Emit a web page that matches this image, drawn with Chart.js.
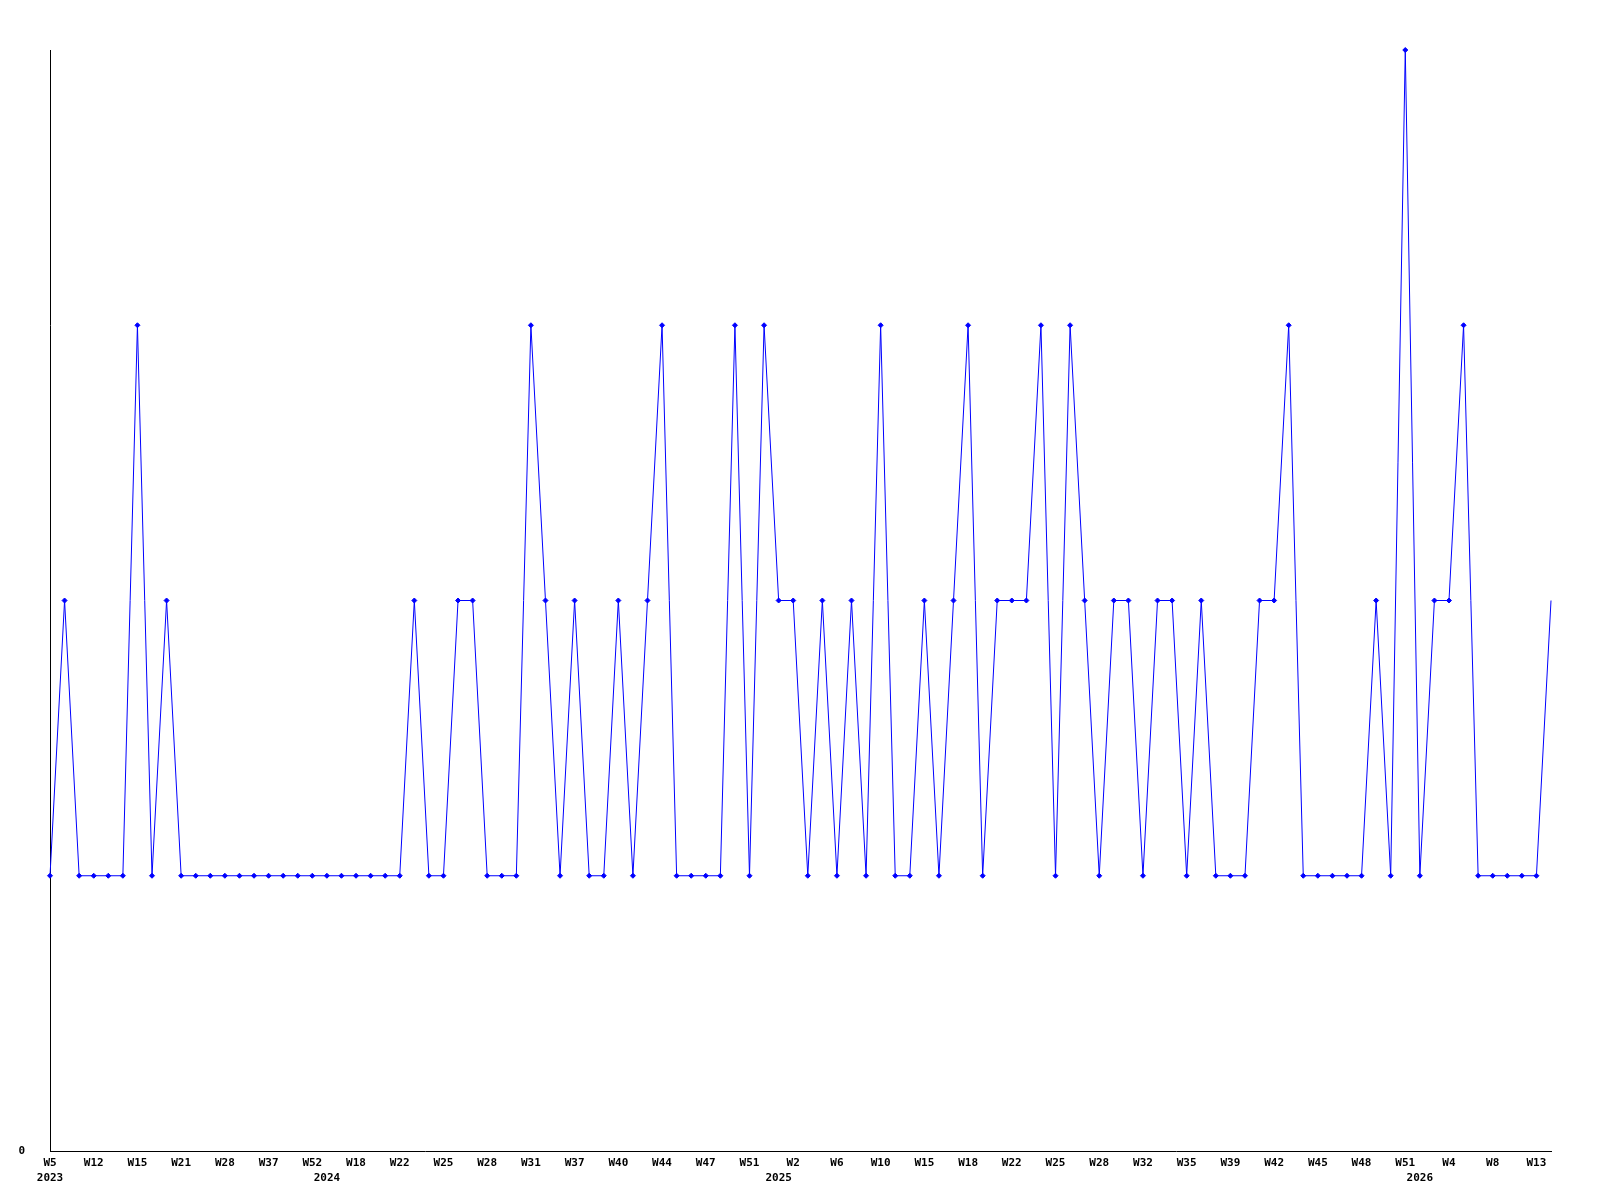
<!DOCTYPE html>
<html>
<head>
<meta charset="utf-8">
<title>weekly count</title>
<script src="https://cdn.jsdelivr.net/npm/chart.js@4.4.1/dist/chart.umd.min.js"></script>
<style>
  html, body { margin: 0; padding: 0; background: #fff; }
  canvas { display: block; }
</style>
</head>
<body>
<canvas id="weekChart" width="1600" height="1200"></canvas>
<script>
// week of each point
const weeks = [
  5, 7, 9, 12, 13, 14, 15, 16, 18, 21, 23, 26, 28, 31, 34, 37, 42, 47, 52,
  3, 10, 18, 20, 21, 22, 23, 24, 25, 26, 27, 28, 29, 30, 31, 33, 35, 37, 38, 39, 40,
  42, 43, 44, 45, 46, 47, 48, 50, 51, 52,
  1, 2, 3, 5, 6, 7, 9, 10, 11, 13, 15, 16, 17, 18, 19, 20, 22, 23, 24, 25, 26, 27,
  28, 29, 31, 32, 33, 34, 35, 36, 38, 39, 40, 41, 42, 43, 44, 45, 46, 47, 48, 49, 50, 51,
  1, 2, 4, 5, 7, 8, 10, 12, 13, 14
];

// year of each point
const years = [
  2023, 2023, 2023, 2023, 2023, 2023, 2023, 2023, 2023, 2023, 2023, 2023, 2023, 2023, 2023, 2023, 2023, 2023, 2023,
  2024, 2024, 2024, 2024, 2024, 2024, 2024, 2024, 2024, 2024, 2024, 2024, 2024, 2024, 2024, 2024, 2024, 2024, 2024, 2024, 2024,
  2024, 2024, 2024, 2024, 2024, 2024, 2024, 2024, 2024, 2024,
  2025, 2025, 2025, 2025, 2025, 2025, 2025, 2025, 2025, 2025, 2025, 2025, 2025, 2025, 2025, 2025, 2025, 2025, 2025, 2025, 2025, 2025,
  2025, 2025, 2025, 2025, 2025, 2025, 2025, 2025, 2025, 2025, 2025, 2025, 2025, 2025, 2025, 2025, 2025, 2025, 2025, 2025, 2025, 2025,
  2026, 2026, 2026, 2026, 2026, 2026, 2026, 2026, 2026, 2026
];

// count per week
const counts = [
  1, 2, 1, 1, 1, 1, 3, 1, 2, 1, 1, 1, 1, 1, 1, 1, 1, 1, 1,
  1, 1, 1, 1, 1, 1, 2, 1, 1, 2, 2, 1, 1, 1, 3, 2, 1, 2, 1, 1, 2,
  1, 2, 3, 1, 1, 1, 1, 3, 1, 3,
  2, 2, 1, 2, 1, 2, 1, 3, 1, 1, 2, 1, 2, 3, 1, 2, 2, 2, 3, 1, 3, 2,
  1, 2, 2, 1, 2, 2, 1, 2, 1, 1, 1, 2, 2, 3, 1, 1, 1, 1, 1, 2, 1, 4,
  1, 2, 2, 3, 1, 1, 1, 1, 1, 2
];

const yTicks = [0];
const labelEvery = 3;

const weekLabels = weeks.map(w => "W" + w);
const yearLabels = years.map(y => String(y));

const tickFont = { family: "'DejaVu Sans Mono', monospace", size: 11, weight: "bold" };

new Chart(document.getElementById("weekChart").getContext("2d"), {
  type: "line",
  data: {
    labels: weekLabels,
    datasets: [{
      data: counts,
      borderColor: "#0000ff",
      backgroundColor: "#0000ff",
      borderWidth: 1,
      tension: 0,
      fill: false,
      clip: false,
      pointStyle: "rectRot",
      pointRadius: ctx => ctx.dataIndex === counts.length - 1 ? 0 : 2.5,
      pointBorderWidth: 1,
      pointBorderColor: "#0000ff",
      pointBackgroundColor: "#0000ff"
    }]
  },
  options: {
    responsive: false,
    animation: false,
    events: [],
    layout: { padding: { left: 0, right: 49, top: 50, bottom: 0 } },
    plugins: {
      legend: { display: false },
      tooltip: { enabled: false }
    },
    scales: {
      x: {
        type: "category",
        offset: false,
        grid: { display: false, drawTicks: false },
        border: { display: true, color: "#000", width: 1 },
        afterFit: s => { s.height = 20; },
        ticks: {
          autoSkip: false,
          maxRotation: 0,
          minRotation: 0,
          padding: 6,
          color: "#000",
          font: tickFont,
          callback: (v, i) => i % labelEvery === 0 ? weekLabels[i] : ""
        }
      },
      x2: {
        type: "category",
        position: "bottom",
        labels: yearLabels,
        offset: false,
        grid: { display: false, drawTicks: false },
        border: { display: false },
        afterFit: s => { s.height = 29; },
        ticks: {
          autoSkip: false,
          maxRotation: 0,
          minRotation: 0,
          padding: 1,
          color: "#000",
          font: tickFont,
          callback: (v, i) => (i === 0 || years[i] !== years[i - 1]) ? yearLabels[i] : ""
        }
      },
      y: {
        min: 0,
        max: 4,
        grid: { display: false, drawTicks: false },
        border: { display: true, color: "#000", width: 1 },
        afterFit: s => { s.width = 50; },
        ticks: {
          stepSize: 1,
          padding: 25,
          color: "#000",
          font: tickFont,
          callback: v => yTicks.includes(v) ? String(v) : ""
        }
      }
    }
  }
});
</script>
</body>
</html>
